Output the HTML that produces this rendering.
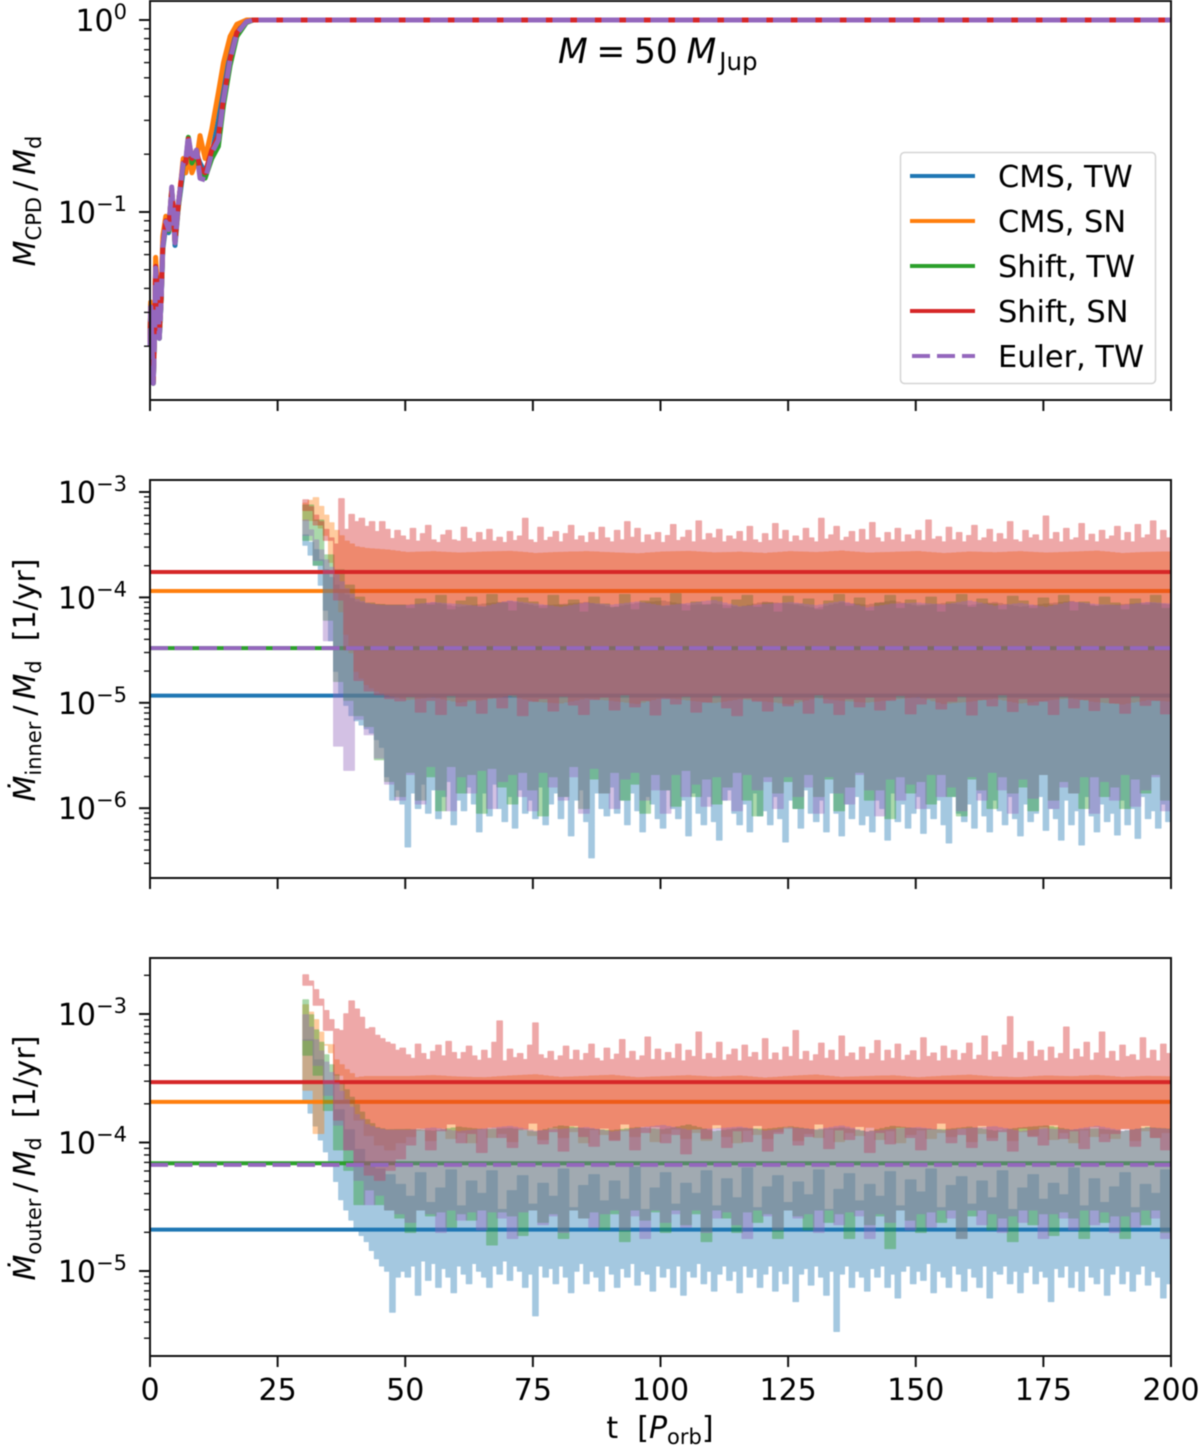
<!DOCTYPE html>
<html lang="en">
<head>
<meta charset="utf-8">
<title>Mass and accretion rates, M = 50 MJup</title>
<style>
html,body{margin:0;padding:0;background:#fff;}
#fig{display:block;width:1200px;height:1448px;filter:blur(0.4px);}
text{font-family:"DejaVu Sans","Liberation Sans",sans-serif;font-size:30px;fill:#000;white-space:pre;}
.sub{font-size:21px;}
.it{font-style:italic;}
</style>
</head>
<body>
<svg id="fig" xmlns="http://www.w3.org/2000/svg" width="1200" height="1448" viewBox="0 0 1200 1448">
  <rect x="0" y="0" width="1200" height="1448" fill="#fff"/>
  <g id="panel-top"></g>
  <g id="panel-mid"></g>
  <g id="panel-bot"></g>
  <g id="axes-layer"></g>

  <text transform="translate(35 201) rotate(-90)" text-anchor="middle"><tspan class="it">M</tspan><tspan class="sub" dy="6">CPD</tspan><tspan dy="-6">&#8201;/&#8201;</tspan><tspan class="it">M</tspan><tspan class="sub" dy="6">d</tspan></text>
  <text transform="translate(35 680) rotate(-90)" text-anchor="middle"><tspan class="it">Ṁ</tspan><tspan class="sub" dy="6">inner</tspan><tspan dy="-6">&#8201;/&#8201;</tspan><tspan class="it">M</tspan><tspan class="sub" dy="6">d</tspan><tspan dy="-6">  [1/yr]</tspan></text>
  <text transform="translate(35 1158) rotate(-90)" text-anchor="middle"><tspan class="it">Ṁ</tspan><tspan class="sub" dy="6">outer</tspan><tspan dy="-6">&#8201;/&#8201;</tspan><tspan class="it">M</tspan><tspan class="sub" dy="6">d</tspan><tspan dy="-6">  [1/yr]</tspan></text>
  <text x="660" y="1438" text-anchor="middle">t  [<tspan class="it">P</tspan><tspan class="sub" dy="6">orb</tspan><tspan dy="-6">]</tspan></text>
  <text x="558" y="63"><tspan class="it" style="font-size:34.5px">M</tspan><tspan style="font-size:34.5px">&#8197;=&#8197;50&#8197;</tspan><tspan class="it" style="font-size:34.5px">M</tspan><tspan class="sub" dx="3" dy="7" style="font-size:24.5px">Jup</tspan></text>

  <g>
    <rect x="900.5" y="152.5" width="255" height="231" rx="4" ry="4" fill="#fff" fill-opacity="0.8" stroke="#d4d4d4" stroke-width="1.5"/>
    <line x1="910" x2="975" y1="176" y2="176" stroke="#1f77b4" stroke-width="4"/>
    <text x="998" y="187" style="font-size:30.4px">CMS, TW</text>
    <line x1="910" x2="975" y1="221" y2="221" stroke="#ff7f0e" stroke-width="4"/>
    <text x="998" y="232" style="font-size:30.4px">CMS, SN</text>
    <line x1="910" x2="975" y1="266" y2="266" stroke="#2ca02c" stroke-width="4"/>
    <text x="998" y="277" style="font-size:30.4px">Shift, TW</text>
    <line x1="910" x2="975" y1="311" y2="311" stroke="#d62728" stroke-width="4"/>
    <text x="998" y="322" style="font-size:30.4px">Shift, SN</text>
    <line x1="912" x2="975" y1="356" y2="356" stroke="#9467bd" stroke-width="4" stroke-dasharray="18 7"/>
    <text x="998" y="367" style="font-size:30.4px">Euler, TW</text>
  </g>
</svg>
<script>
/* ---- shared axis data ---- */
var xTicks = [0,25,50,75,100,125,150,175,200];
var minorFactors = [2,3,4,5,6,7,8,9];
var topDecades = [0,-1,-2];
var midDecades = [-3,-4,-5,-6,-7];
var botDecades = [-2,-3,-4,-5,-6];
var topLabelled = [0,-1];
var midLabelled = [-3,-4,-5,-6];
var botLabelled = [-3,-4,-5];
var seriesNames = ['cms-tw','cms-sn','shift-tw','shift-sn','euler-tw'];
var seriesColors = ['#1f77b4','#ff7f0e','#2ca02c','#d62728','#9467bd'];

/* ---- top panel: CPD mass fraction ---- */
var topT = [0,.13,.4,.65,.9,1.1,1.44,1.83,2.2,2.5,3.1,3.66,4.25,4.6,4.9,5.55,6.5,7,7.5,8.2,9.1,9.8,10.8,12.1,13.4,14.4,15.7,17,18.9,20.2,22,200];
var topBlue = [.021,.033,.021,.013,.024,.052,.038,.022,.035,.064,.085,.078,.125,.095,.067,.105,.165,.16,.24,.17,.2,.18,.16,.2,.3,.47,.72,.9,.99,1,1,1];
var topOrange = [.022,.034,.022,.014,.025,.058,.041,.024,.038,.075,.095,.08,.12,.098,.07,.105,.19,.16,.2,.16,.185,.25,.19,.27,.42,.6,.82,.95,1,1,1,1];
var topGreen = [.02,.032,.021,.0128,.023,.05,.038,.022,.035,.066,.088,.08,.132,.1,.069,.108,.175,.18,.245,.18,.205,.16,.15,.19,.22,.36,.58,.82,.97,1,1,1];
var topRed = [.021,.032,.022,.013,.024,.052,.039,.023,.036,.067,.09,.082,.13,.102,.07,.11,.18,.18,.24,.19,.21,.17,.16,.21,.25,.39,.63,.86,.98,1,1,1];
var topPurple = [.02,.032,.021,.0128,.023,.051,.038,.022,.035,.066,.089,.081,.135,.1,.069,.11,.18,.185,.25,.186,.21,.15,.147,.204,.237,.383,.62,.85,.98,1,1,1];

/* ---- rate panels: values in units of 1e-6 per yr ---- */
var rateUnit = 1e-6;
var midMeans = [11.7,115,33,174,33];
var botMeans = [21,207,69,295,67];
var coarseT = [30,32,34,36,38,40,42,44,46,50,55,60,65,70,75,80,85,90,95,100,105,110,115,120,125,130,135,140,145,150,155,160,165,170,175,180,185,190,195,200];

/* inner rate: upper envelopes */
var midBlueHi = [390,282,182,130,105,90,86,85,84,84,88,80,86,91,82,85,89,79,87,92,83,86,80,90,85,78,88,84,92,81,87,83,89,80,86,91,82,85,88,84];
var midOrangeHi = [780,880,600,430,340,300,290,285,280,265,270,262,268,272,260,266,270,264,258,268,272,263,267,260,270,265,274,262,266,271,259,268,264,270,262,267,273,260,266,269];
var midGreenHi = [
750,540,252,182,130,100,88,85,84,84,
78,96,84,104,76,92,100,80,106,88,
74,98,90,78,104,84,94,72,100,86,
80,106,76,92,98,82,108,74,90,84,
100,78,94,104,80,88,72,102,86,96,
76,92,106,82,98,74,88,104,78,94,
84,100,72,90,106,80,96,86,76,102,
92,78,98,84,104,74,90,82,100,88,
76,96,84,104,78,92];
var midPurpleHi = [540,350,226,163,120,95,87,84,83,83,89,85,81,92,86,80,88,84,90,82,87,93,81,85,89,83,91,79,86,88,84,92,82,87,80,90,85,83,89,86];
var midRedHi = [
840,720,600,520,440,365,320,860,440,610,
520,560,470,520,420,520,440,360,430,380,
350,450,340,400,480,350,330,390,430,350,
340,460,360,335,410,350,440,340,370,330,
420,345,380,560,350,330,460,345,370,420,
335,400,480,350,380,330,410,350,460,365,
335,430,350,520,370,450,330,390,350,410,
330,385,490,345,370,430,335,530,350,400,
365,440,335,380,355,420,340,470,350,330,
400,345,500,355,430,335,380,345,450,365,
335,560,355,390,470,345,370,420,335,440,
350,510,365,335,410,350,450,335,390,355,
430,345,540,355,375,335,460,350,410,335,
385,480,345,365,440,335,400,355,520,350,
335,430,365,390,345,590,355,410,335,450,
350,365,500,345,395,335,430,355,380,470,
345,410,335,490,365,390,530,350,430,365,
345];

/* inner rate: lower envelopes */
var midOrangeLo = [540,540,390,120,45,20,15,13,12,10.8,11.5,10.2,10.9,11.8,10.4,10,11.2,10.6,9.9,11.4,10.7,10.1,11,10.5,9.8,11.3,10.6,10.2,10.9,11.5,9.9,10.4,11.1,10,10.7,11.2,10.3,9.8,10.8,10.4];
var midRedLo = [
670,490,350,95,32,16.4,13,12,11,10.5,
11.5,8.2,10.6,7.8,11.8,9.4,10.8,8,11.2,9,
12,7.6,10.4,11,8.4,11.6,9.6,7.8,10.8,11.4,
8.6,12,9.2,10.6,7.7,11,9.8,11.6,8.2,10.2,
11.8,9,7.6,11.2,10.4,8.4,11.6,9.4,10.8,8,
12,10,7.8,11,9.2,11.4,8.6,10.6,11.8,7.9,
9.8,11.2,8.8,10.4,11.6,7.7,10.8,9.4,12,8.3,
11,9.6,10.4,7.8,11.6,9,10.8,8.5,11.3,10,
8,11.7,9.5,10.6,7.9,11];
var midBlueLo = [
314,253,203,131,76,39,20,11.8,9.5,7.6,
6.8,6.2,5.7,5.2,4.5,3.8,2,1.2,1.5,1.1,
.43,1.4,1,1.7,.9,1.5,.8,1.3,1.8,.7,
1.2,.95,1.6,1.1,.6,1.4,.85,1.7,1,.75,
1.3,.65,1.5,.9,1.2,.8,1.6,.7,1.1,1.4,
.8,1.3,.55,1.2,1.5,.75,.34,1.4,1,.85,
1.6,.9,1.2,.7,1.4,.95,.6,1.3,1.1,.8,
.65,1.5,1,.8,1.2,.55,1.4,.9,.7,1.3,
.75,.5,1.2,1.5,.9,.7,1.1,.6,1.4,.85,
.95,.7,1.3,.8,.48,1.2,1,.65,1.5,.9,
.75,1.2,.6,1.4,.9,.55,1.1,.8,1.3,.7,
.85,.6,1.2,1,.5,1.4,.75,1.1,.65,.9,
1.3,.58,1,.8,1.2,.7,.47,1.3,.9,.75,
1.1,.65,1.4,.85,.6,1.2,.95,.7,1.3,.8,
.55,1.1,.75,.9,1.3,.62,1,.8,.5,1.2,
.7,.95,.45,1.3,.85,.6,1.1,.75,.9,.56,
1.2,.7,1,.52,1.3,.8,.95,.65,1.1,.75,
1.4];
var midGreenLo = [
350,203,61,16,10.6,7.6,6,2.9,1.8,1.3,
2.2,1.2,2,.95,2.5,1.4,2.1,.9,2.4,1.6,
1.1,2.2,1.5,.85,2,1.3,2.5,1,1.9,1.4,
2.2,1.2,1.7,.9,2.1,1.5,1.05,2.3,1.3,1.9,
1.1,1.6,2.2,1.2,.85,2,1.4,1.8,1,2.1,
1.3,1.9,.95,1.6,2.2,1.2,1.5,.8,2,1.4,
1.8,1.1,2.1,1.3,.85,1.9,1.5,1,2,1.4,
1.6,.95,2.1,1.2,1.8,1.4,1,2,1.3,1.6,
1,1.9,1.4,2.1,1.2,1.8];
var midPurpleLo = [
390,226,39,3.9,2.3,7,5,3,1.7,1.2,
2.1,1.1,2.5,1.5,.95,2,1.4,2.3,1,1.8,
2.1,1.3,.95,2.2,1.6,1.2,2,.9,2.4,1.4,
1,1.9,2.2,1.2,1.5,.9,2.1,1.3,1.7,1.05,
2,1.2,.95,2.1,1.5,1.8,1,2,1.3,1.6,
.9,2,1.4,1.1,2.1,1.5,.85,1.9,1.2,1.7,
1,2.1,1.3,1.6,.95,2,1.2,2.2,1.5,.9,
1.9,1.25,2.1,1,1.6,1.4,2,.9,1.8,1.2,
2.1,1.05,1.5,2,.95,1.5];

/* outer rate: upper envelopes */
var botBlueHi = [
628,438,280,179,125,88,67,62,56,47,
38,58,34,44,61,32,50,40,60,30,
42,55,33,48,38,62,31,46,56,35,
50,36,64,30,44,58,33,48,40,60,
32,52,37,63,31,45,55,34,49,39,
61,30,43,57,35,47,38,59,32,51,
41,62,31,46,54,33,50,37,60,30,
44,56,36,48,39,63,32,52,34,45,
58,31,47,40,61,35];
var botOrangeHi = [1175,900,575,438,367,318,325,325,325,325,330,322,318,328,335,320,326,332,318,324,330,321,328,316,326,334,320,325,329,318,327,333,322,319,328,324,331,320,326,323];
var botGreenHi = [1285,750,480,335,256,196,150,130,125,126,122,131,125,128,120,134,127,123,130,125,136,121,128,126,132,124,129,120,133,127,125,131,122,129,134,124,127,121,130,126];
var botPurpleHi = [982,628,420,290,214,164,137,128,124,124,129,121,127,133,122,126,130,120,128,135,124,127,131,122,129,125,134,120,126,130,123,128,132,121,127,124,133,122,129,125];
var botRedHi = [
2010,1800,1540,1300,1060,900,760,740,1000,1260,
1090,940,760,780,680,640,600,580,520,540,
480,450,580,490,440,510,570,470,610,500,
445,500,560,470,435,520,450,600,880,430,
530,455,490,440,570,850,480,450,510,435,
470,560,440,520,435,490,580,450,430,540,
440,485,630,450,510,435,470,660,440,530,
435,500,450,580,430,520,465,720,440,490,
450,600,435,480,530,430,570,460,500,435,
640,440,495,435,550,465,740,440,510,430,
480,590,450,520,435,670,465,495,435,550,
440,490,620,430,520,450,580,435,475,515,
435,650,465,495,430,560,450,520,435,490,
590,440,475,670,435,505,460,570,950,450,
500,435,610,465,520,430,550,450,490,790,
440,530,460,600,435,495,720,450,510,430,
570,465,480,435,650,450,520,430,580,490,
530];

/* outer rate: lower envelopes */
var botOrangeLo = [
256,118,575,335,214,150,114,96,88,100,
112,125,104,130,108,120,100,128,110,118,
102,126,114,106,132,110,122,100,127,116,
106,124,112,134,102,118,128,108,120,104,
130,112,100,125,116,108,122,134,104,118,
110,128,102,120,114,132,106,124,100,116,
126,108,120,112,130,102,118,110,128,104,
122,114,134,106,120,100,126,112,118,108,
130,104,124,110,120,114];
var botRedLo = [
1680,1175,750,150,88,67,56,51,61,75,
96,130,88,124,140,100,118,84,132,110,
92,128,142,98,122,86,136,112,94,130,
104,140,88,120,134,100,116,82,128,108,
138,92,124,102,136,86,118,130,96,112,
140,90,126,106,134,84,120,98,132,110,
88,128,142,100,116,92,136,104,122,86,
130,112,96,138,108,124,90,134,102,118,
128,94,136,110,88,122];
var botBlueLo = [
214,170,135,105,85,66,50,36,30,25,
21,19,17,14.5,12.5,11,10,4.8,9,10,
9,11,6.5,12,8.5,11.5,7.5,10.5,9,6.8,
11,9.5,8,11.5,10,9,7.5,11,9.5,12,
8.5,11,10,7.5,9.5,4.5,11,9,10.5,8,
11,9,6.8,10,11.5,8,10,9,7,11,
9.5,7.5,10.5,9,11.5,7.8,10,9.5,7,11,
9,10.5,7.5,11,6.5,10,9,11.5,8,10,
7,9.5,11,8.5,10,6.8,11,9,10.5,7.5,
9.5,11,7,10,8,11,5.8,9.5,10.5,7.8,
11,9,6.5,10,3.4,9.5,11,7.5,10,9,
7,10.5,9,11,7.5,9.5,6.2,10,11,8,
10,8.5,11.5,6.8,10,9,7.5,11,9.5,7,
10.5,9,7.5,11,6.2,10,9.5,11,8,10,
6.8,9.8,11,8,10,9,5.8,10.5,9,11,
7.5,10,7,11,9,8,10.5,6.5,9.5,11,
8,10,7,9.5,11,7.8,10,9,6.2,8,
6];
var botGreenLo = [
480,335,178,88,61,33,43,33,30,26,
20,30,27,29,22,28,25,30,16,29,
27,19,30,24,28,18,30,26,29,21,
28,17,30,25,29,20,30,23,28,17,
30,26,20,29,24,28,18,30,27,21,
30,24,28,18,30,23,27,15,30,25,
20,29,24,30,18,27,30,21,26,17,
30,23,28,19,29,26,18,30,24,27,
18,29,23,30,20,27];
var botPurpleLo = [
628,400,234,137,88,51,33,39,30,28,
24,30,28,20,30,25,29,21,29,26,
18,29,30,23,27,20,30,26,22,28,
30,21,27,18,30,24,28,22,30,20,
26,29,23,18,30,27,21,30,26,28,
20,30,23,29,27,18,28,24,30,21,
28,22,30,26,18,30,23,28,20,27,
24,30,18,28,26,21,30,23,29,20,
27,22,30,26,18,29];

/* ---- axis functions ---- */
var NS = 'http://www.w3.org/2000/svg';
function xScale(t){ return 150 + t * 5.105; }
function logY(anchorY, anchorDecade, pxPerDecade, v){ return anchorY - pxPerDecade * (Math.log10(v) - anchorDecade); }
function yTop(v){ return logY(20, 0, 192, v); }
function yMid(v){ return logY(492, -3, 105.4, v); }
function yBot(v){ return logY(1014, -3, 128.5, v); }
function yMidRate(u){ return yMid(u * rateUnit); }
function yBotRate(u){ return yBot(u * rateUnit); }

/* envelope lookup: 171 values = one per orbit, 86 = one per two orbits, 40 = coarse grid */
function envelopeAt(arr, t){
  if (arr.length === coarseT.length){
    var i = 0;
    while (i < coarseT.length - 2 && coarseT[i + 1] < t) { i++; }
    var f = (t - coarseT[i]) / (coarseT[i + 1] - coarseT[i]);
    return Math.pow(10, Math.log10(arr[i]) * (1 - f) + Math.log10(arr[i + 1]) * f);
  }
  var step = arr.length > 100 ? 1 : 2;
  return arr[Math.floor((t - 30) / step)];
}

function bandPathData(hi, lo, yFn){
  var top = [], bottom = [], t;
  for (t = 30; t < 200; t++){
    var yh = yFn(envelopeAt(hi, t)).toFixed(1);
    var yl = yFn(envelopeAt(lo, t)).toFixed(1);
    top.push(xScale(t).toFixed(1) + ' ' + yh);
    top.push(xScale(t + 1).toFixed(1) + ' ' + yh);
    bottom.unshift(xScale(t).toFixed(1) + ' ' + yl);
    bottom.unshift(xScale(t + 1).toFixed(1) + ' ' + yl);
  }
  return 'M' + top.join('L') + 'L' + bottom.join('L') + 'Z';
}

function drawRatePanel(group, prefix, yFn, means, his, los){
  for (var s = 0; s < seriesNames.length; s++){
    var band = document.createElementNS(NS, 'path');
    
    
    band.setAttribute('d', bandPathData(his[s], los[s], yFn));
    band.setAttribute('fill', seriesColors[s]);
    band.setAttribute('stroke', seriesColors[s]);
    band.setAttribute('stroke-width', '1.5');
    band.setAttribute('stroke-linejoin', 'round');
    band.setAttribute('opacity', '0.4');
    group.appendChild(band);

    var mean = document.createElementNS(NS, 'line');
    
    
    mean.setAttribute('x1', xScale(0));
    mean.setAttribute('x2', xScale(200));
    mean.setAttribute('y1', yFn(means[s]));
    mean.setAttribute('y2', yFn(means[s]));
    mean.setAttribute('stroke', seriesColors[s]);
    mean.setAttribute('stroke-width', '4');
    if (s === 4) { mean.setAttribute('stroke-dasharray', '18 6.5'); }
    group.appendChild(mean);
  }
}

function drawTopPanel(group){
  var all = [topBlue, topOrange, topGreen, topRed, topPurple];
  for (var s = 0; s < all.length; s++){
    var pts = [];
    for (var i = 0; i < topT.length; i++){
      pts.push(xScale(topT[i]).toFixed(1) + ',' + yTop(all[s][i]).toFixed(1));
    }
    var line = document.createElementNS(NS, 'polyline');
    
    
    line.setAttribute('points', pts.join(' '));
    line.setAttribute('fill', 'none');
    line.setAttribute('stroke', seriesColors[s]);
    line.setAttribute('stroke-width', '5');
    line.setAttribute('stroke-linejoin', 'round');
    if (s === 4) { line.setAttribute('stroke-dasharray', '18 6.5'); }
    group.appendChild(line);
  }
}

function drawFrame(layer, prefix, y0, y1, yFn, decades, labelled, showX){
  var frame = document.createElementNS(NS, 'rect');
  
  
  frame.setAttribute('x', 150);
  frame.setAttribute('y', y0);
  frame.setAttribute('width', 1021);
  frame.setAttribute('height', y1 - y0);
  frame.setAttribute('fill', 'none');
  frame.setAttribute('stroke', '#111');
  frame.setAttribute('stroke-width', '2');
  layer.appendChild(frame);

  xTicks.forEach(function(t){
    var tick = document.createElementNS(NS, 'line');
    
    
    tick.setAttribute('x1', xScale(t));
    tick.setAttribute('x2', xScale(t));
    tick.setAttribute('y1', y1);
    tick.setAttribute('y2', y1 + 11);
    tick.setAttribute('stroke', '#111');
    tick.setAttribute('stroke-width', '2');
    layer.appendChild(tick);
    if (showX){
      var lab = document.createElementNS(NS, 'text');
      
      
      lab.setAttribute('x', xScale(t));
      lab.setAttribute('y', y1 + 44);
      lab.setAttribute('text-anchor', 'middle');
      lab.textContent = String(t);
      layer.appendChild(lab);
    }
  });

  decades.forEach(function(d){
    var major = yFn(Math.pow(10, d));
    if (major >= y0 && major <= y1){
      var tick = document.createElementNS(NS, 'line');
      
      
      tick.setAttribute('x1', 139);
      tick.setAttribute('x2', 150);
      tick.setAttribute('y1', major);
      tick.setAttribute('y2', major);
      tick.setAttribute('stroke', '#111');
      tick.setAttribute('stroke-width', '2');
      layer.appendChild(tick);
    }
    minorFactors.forEach(function(m){
      var py = yFn(m * Math.pow(10, d));
      if (py < y0 || py > y1) { return; }
      var mt = document.createElementNS(NS, 'line');
      
      
      mt.setAttribute('x1', 144);
      mt.setAttribute('x2', 150);
      mt.setAttribute('y1', py);
      mt.setAttribute('y2', py);
      mt.setAttribute('stroke', '#111');
      mt.setAttribute('stroke-width', '1.4');
      layer.appendChild(mt);
    });
  });

  labelled.forEach(function(d){
    var py = yFn(Math.pow(10, d));
    var lab = document.createElementNS(NS, 'text');
    
    
    lab.setAttribute('x', 127);
    lab.setAttribute('y', py + 11);
    lab.setAttribute('text-anchor', 'end');
    var base = document.createElementNS(NS, 'tspan');
    base.textContent = '10';
    lab.appendChild(base);
    var sup = document.createElementNS(NS, 'tspan');
    sup.setAttribute('dy', '-12');
    sup.setAttribute('style', 'font-size:21px');
    sup.textContent = d === 0 ? '0' : '\u2212' + Math.abs(d);
    lab.appendChild(sup);
    layer.appendChild(lab);
  });
}

drawTopPanel(document.getElementById('panel-top'));
drawRatePanel(document.getElementById('panel-mid'), 'inner-rate', yMidRate, midMeans,
  [midBlueHi, midOrangeHi, midGreenHi, midRedHi, midPurpleHi],
  [midBlueLo, midOrangeLo, midGreenLo, midRedLo, midPurpleLo]);
drawRatePanel(document.getElementById('panel-bot'), 'outer-rate', yBotRate, botMeans,
  [botBlueHi, botOrangeHi, botGreenHi, botRedHi, botPurpleHi],
  [botBlueLo, botOrangeLo, botGreenLo, botRedLo, botPurpleLo]);

var layer = document.getElementById('axes-layer');
drawFrame(layer, 'cpd-mass', 1, 400, yTop, topDecades, topLabelled, false);
drawFrame(layer, 'inner-rate', 480, 878, yMid, midDecades, midLabelled, false);
drawFrame(layer, 'outer-rate', 958, 1356, yBot, botDecades, botLabelled, true);
</script>
</body>
</html>
